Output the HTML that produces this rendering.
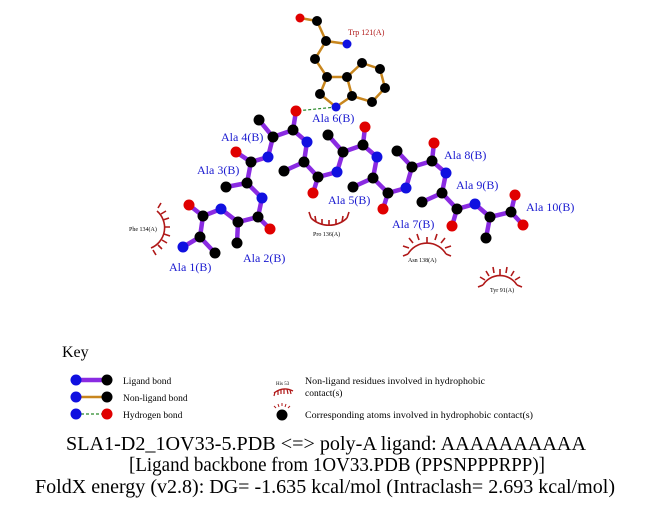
<!DOCTYPE html>
<html><head><meta charset="utf-8"><style>
html,body{margin:0;padding:0;background:#fff;}
svg{display:block;font-family:"Liberation Serif",serif;}
</style></head><body>
<svg width="651" height="511" viewBox="0 0 651 511" xmlns="http://www.w3.org/2000/svg">
<rect width="651" height="511" fill="#fff"/>
<g stroke="#c8861e" stroke-width="2.5" fill="none">
<polyline points="300,18 317,21 326,41 315,59 327,77 347,77 362,63 380,69 385,88 372,102 352,96 347,77"/>
<line x1="326" y1="41" x2="347" y2="44"/>
<polyline points="327,77 320,94 336,107 352,96"/>
</g>
<line x1="336" y1="107" x2="296" y2="111" stroke="#2a8a2a" stroke-width="1.2" stroke-dasharray="3,2"/>
<g stroke="#8a2be2" stroke-width="4.5" stroke-linecap="round" fill="none">
<polyline points="183,247 200,237 203,216 221,209 238,222 258,217 262,198 247,183 251,162 268,157 273,137 293,130 307,142 304,162 318,177 337,172 343,152 363,145 377,157 373,178 388,193 406,188 412,167 432,161 446,173 442,193 457,209 475,204 490,217 511,212 515,195"/>
<line x1="200" y1="237" x2="215" y2="253"/><line x1="203" y1="216" x2="189" y2="205"/>
<line x1="238" y1="222" x2="237" y2="243"/><line x1="258" y1="217" x2="270" y2="229"/>
<line x1="247" y1="183" x2="226" y2="187"/><line x1="251" y1="162" x2="236" y2="152"/>
<line x1="273" y1="137" x2="259" y2="120"/><line x1="293" y1="130" x2="296" y2="111"/>
<line x1="304" y1="162" x2="284" y2="171"/><line x1="318" y1="177" x2="313" y2="193"/>
<line x1="343" y1="152" x2="328" y2="135"/><line x1="363" y1="145" x2="365" y2="127"/>
<line x1="373" y1="178" x2="353" y2="187"/><line x1="388" y1="193" x2="383" y2="209"/>
<line x1="412" y1="167" x2="397" y2="151"/><line x1="432" y1="161" x2="434" y2="143"/>
<line x1="442" y1="193" x2="422" y2="202"/><line x1="457" y1="209" x2="452" y2="226"/>
<line x1="490" y1="217" x2="486" y2="238"/><line x1="511" y1="212" x2="523" y2="225"/>
</g>
<g fill="#000">
<circle cx="317" cy="21" r="5"/><circle cx="326" cy="41" r="5"/><circle cx="315" cy="59" r="5"/><circle cx="327" cy="77" r="5"/><circle cx="347" cy="77" r="5"/><circle cx="362" cy="63" r="5"/><circle cx="380" cy="69" r="5"/><circle cx="385" cy="88" r="5"/><circle cx="372" cy="102" r="5"/><circle cx="352" cy="96" r="5"/><circle cx="320" cy="94" r="5"/>
<circle cx="200" cy="237" r="5.5"/><circle cx="203" cy="216" r="5.5"/><circle cx="215" cy="253" r="5.5"/><circle cx="238" cy="222" r="5.5"/><circle cx="237" cy="243" r="5.5"/><circle cx="258" cy="217" r="5.5"/><circle cx="247" cy="183" r="5.5"/><circle cx="226" cy="187" r="5.5"/><circle cx="251" cy="162" r="5.5"/><circle cx="273" cy="137" r="5.5"/><circle cx="259" cy="120" r="5.5"/><circle cx="293" cy="130" r="5.5"/><circle cx="304" cy="162" r="5.5"/><circle cx="284" cy="171" r="5.5"/><circle cx="318" cy="177" r="5.5"/><circle cx="343" cy="152" r="5.5"/><circle cx="328" cy="135" r="5.5"/><circle cx="363" cy="145" r="5.5"/><circle cx="373" cy="178" r="5.5"/><circle cx="353" cy="187" r="5.5"/><circle cx="388" cy="193" r="5.5"/><circle cx="412" cy="167" r="5.5"/><circle cx="397" cy="151" r="5.5"/><circle cx="432" cy="161" r="5.5"/><circle cx="442" cy="193" r="5.5"/><circle cx="422" cy="202" r="5.5"/><circle cx="457" cy="209" r="5.5"/><circle cx="490" cy="217" r="5.5"/><circle cx="486" cy="238" r="5.5"/><circle cx="511" cy="212" r="5.5"/>
</g>
<g fill="#1010e0">
<circle cx="347" cy="44" r="4.5"/><circle cx="336" cy="107" r="4.5"/>
<circle cx="183" cy="247" r="5.5"/><circle cx="221" cy="209" r="5.5"/><circle cx="262" cy="198" r="5.5"/><circle cx="268" cy="157" r="5.5"/><circle cx="307" cy="142" r="5.5"/><circle cx="337" cy="172" r="5.5"/><circle cx="377" cy="157" r="5.5"/><circle cx="406" cy="188" r="5.5"/><circle cx="446" cy="173" r="5.5"/><circle cx="475" cy="204" r="5.5"/>
</g>
<g fill="#e00000">
<circle cx="300" cy="18" r="4.5"/>
<circle cx="189" cy="205" r="5.5"/><circle cx="270" cy="229" r="5.5"/><circle cx="236" cy="152" r="5.5"/><circle cx="296" cy="111" r="5.5"/><circle cx="313" cy="193" r="5.5"/><circle cx="365" cy="127" r="5.5"/><circle cx="383" cy="209" r="5.5"/><circle cx="434" cy="143" r="5.5"/><circle cx="452" cy="226" r="5.5"/><circle cx="515" cy="195" r="5.5"/><circle cx="523" cy="225" r="5.5"/>
</g>
<g stroke="#b01818" stroke-width="1.6" fill="none">
<path d="M157,211 A22,22 0 0 1 151,248"/>
<path d="M158,208 l3,-5 M161,214 l5,-3 M163,220 l6,-2 M164,227 l6,0 M164,234 l6,2 M162,240 l5,3 M158,245 l4,4 M153,250 l3,5"/>
<path d="M311,218 A26,26 0 0 0 347,218"/>
<path d="M311,218 l-2,-6 M316,222 l-1,-6 M322,225 l0,-6 M329,226 l0,-6 M336,225 l0,-6 M342,222 l1,-6 M347,218 l2,-6"/>
<path d="M408,254 A22,22 0 0 1 446,254"/>
<path d="M408,254 l-5,2 M409,248 l-6,-2 M413,243 l-4,-5 M419,240 l-2,-6 M427,243 l0,-6 M435,240 l2,-6 M441,243 l4,-5 M445,248 l6,-2 M446,254 l5,2"/>
<path d="M483,285 A20,20 0 0 1 517,285"/>
<path d="M483,285 l-5,2 M485,280 l-5,-3 M489,276 l-3,-5 M494,273 l-1,-6 M500,275 l0,-6 M506,273 l1,-6 M511,276 l3,-5 M515,280 l5,-3 M517,285 l5,2"/>
</g>
<g fill="#1a1ad0" font-size="12">
<text x="312" y="122">Ala 6(B)</text>
<text x="221" y="141">Ala 4(B)</text>
<text x="197" y="174">Ala 3(B)</text>
<text x="243" y="262">Ala 2(B)</text>
<text x="169" y="271">Ala 1(B)</text>
<text x="328" y="204">Ala 5(B)</text>
<text x="392" y="228">Ala 7(B)</text>
<text x="444" y="159">Ala 8(B)</text>
<text x="456" y="189">Ala 9(B)</text>
<text x="526" y="211">Ala 10(B)</text>
</g>
<text x="348" y="35" font-size="8" fill="#b01818">Trp 121(A)</text>
<g font-size="6" fill="#000">
<text x="129" y="231">Phe 134(A)</text>
<text x="313" y="236">Pro 136(A)</text>
<text x="408" y="262">Asn 138(A)</text>
<text x="490" y="292">Tyr 91(A)</text>
</g>
<text x="62" y="357" font-size="16" fill="#000">Key</text>
<line x1="76" y1="380" x2="107" y2="380" stroke="#8a2be2" stroke-width="4.5"/>
<circle cx="76" cy="380" r="5.5" fill="#1010e0"/><circle cx="107" cy="380" r="5.5" fill="#000"/>
<line x1="76" y1="397" x2="107" y2="397" stroke="#c8861e" stroke-width="2.5"/>
<circle cx="76" cy="397" r="5.5" fill="#1010e0"/><circle cx="107" cy="397" r="5.5" fill="#000"/>
<line x1="76" y1="414" x2="107" y2="414" stroke="#2a8a2a" stroke-width="1.2" stroke-dasharray="3,2"/>
<circle cx="76" cy="414" r="5.5" fill="#1010e0"/><circle cx="107" cy="414" r="5.5" fill="#e00000"/>
<g font-size="9.5" fill="#000">
<text x="123" y="384">Ligand bond</text>
<text x="123" y="401">Non-ligand bond</text>
<text x="123" y="418">Hydrogen bond</text>
<text x="305" y="384" textLength="180" lengthAdjust="spacingAndGlyphs">Non-ligand residues involved in hydrophobic</text>
<text x="305" y="396">contact(s)</text>
<text x="305" y="418" textLength="228" lengthAdjust="spacingAndGlyphs">Corresponding atoms involved in hydrophobic contact(s)</text>
</g>
<text x="276" y="385" font-size="5" fill="#000">His 53</text>
<path d="M274,393 Q283,386 293,391" stroke="#b01818" stroke-width="1.4" fill="none"/>
<path d="M275,392 l-1,4 M278,390 l0,5 M281,389 l0,5 M284,389 l0,5 M287,389 l1,5 M290,390 l1,4" stroke="#b01818" stroke-width="1.2"/>
<circle cx="282" cy="415" r="5.5" fill="#000"/>
<path d="M276,408 l-2,-2 M279,407 l-1,-3 M282,406 l0,-3 M285,407 l1,-3 M288,408 l2,-2" stroke="#b01818" stroke-width="1"/>
<g font-size="19.5" fill="#000">
<text x="66" y="450" textLength="520" lengthAdjust="spacingAndGlyphs">SLA1-D2_1OV33-5.PDB &lt;=&gt; poly-A ligand: AAAAAAAAAA</text>
<text x="129" y="471" textLength="416" lengthAdjust="spacingAndGlyphs">[Ligand backbone from 1OV33.PDB (PPSNPPPRPP)]</text>
<text x="35" y="493" textLength="580" lengthAdjust="spacingAndGlyphs">FoldX energy (v2.8): DG= -1.635 kcal/mol (Intraclash= 2.693 kcal/mol)</text>
</g>
</svg>
</body></html>
